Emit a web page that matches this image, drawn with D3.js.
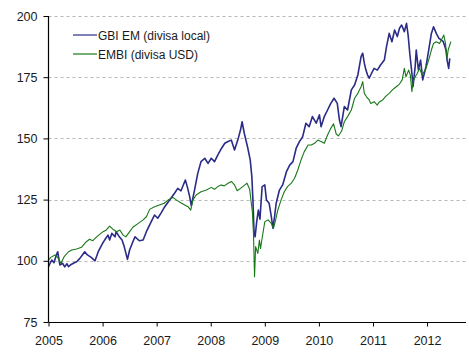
<!DOCTYPE html>
<html>
<head>
<meta charset="utf-8">
<script src="https://cdn.jsdelivr.net/npm/d3@7"></script>
<style>
  body { margin: 0; background: #fff; }
  svg { display: block; font-family: "Liberation Sans", Arial, sans-serif; }
</style>
</head>
<body>
<svg id="chart" width="469" height="353"></svg>
<script>
// series: [year, index]
const gbiEm = [
  [2005.00, 97.6], [2005.03, 99.0], [2005.06, 100.3], [2005.10, 99.2], [2005.14, 102.0],
  [2005.17, 103.7], [2005.21, 98.3], [2005.26, 99.0], [2005.30, 97.5], [2005.34, 98.8],
  [2005.37, 97.6], [2005.42, 98.5], [2005.46, 99.0], [2005.52, 99.6], [2005.58, 101.0],
  [2005.63, 102.5], [2005.67, 103.7], [2005.72, 102.4], [2005.79, 101.4], [2005.86, 100.0],
  [2005.92, 103.7], [2006.00, 107.1], [2006.06, 109.2], [2006.10, 110.5], [2006.13, 108.5],
  [2006.17, 111.2], [2006.23, 109.8], [2006.25, 111.9], [2006.31, 109.8], [2006.36, 108.5],
  [2006.40, 105.8], [2006.46, 100.6], [2006.50, 104.4], [2006.56, 107.8], [2006.60, 109.8],
  [2006.68, 108.2], [2006.75, 108.5], [2006.81, 111.9], [2006.90, 116.0], [2006.96, 118.7],
  [2007.02, 117.4], [2007.08, 119.5], [2007.15, 122.1], [2007.24, 124.8], [2007.33, 127.6],
  [2007.39, 129.6], [2007.45, 128.6], [2007.53, 133.0], [2007.57, 130.0], [2007.61, 126.2],
  [2007.64, 122.5], [2007.70, 128.9], [2007.76, 135.7], [2007.82, 140.5], [2007.89, 141.9],
  [2007.95, 139.8], [2008.01, 141.9], [2008.07, 140.5], [2008.13, 143.2], [2008.20, 146.0],
  [2008.26, 148.0], [2008.32, 148.7], [2008.38, 149.3], [2008.44, 145.3], [2008.50, 149.3],
  [2008.55, 153.4], [2008.58, 156.8], [2008.62, 152.1], [2008.68, 146.6], [2008.73, 141.2],
  [2008.76, 134.4], [2008.78, 124.8], [2008.80, 112.0], [2008.82, 109.8], [2008.85, 116.0],
  [2008.88, 120.7], [2008.91, 117.0], [2008.95, 130.3], [2009.00, 131.0], [2009.03, 124.8],
  [2009.08, 123.5], [2009.12, 118.0], [2009.15, 113.3], [2009.18, 118.0], [2009.21, 123.5],
  [2009.27, 128.9], [2009.33, 131.0], [2009.40, 136.4], [2009.46, 139.1], [2009.52, 140.5],
  [2009.58, 146.0], [2009.64, 148.7], [2009.70, 150.7], [2009.76, 156.2], [2009.82, 154.8],
  [2009.88, 158.9], [2009.95, 156.2], [2010.01, 159.6], [2010.04, 154.8], [2010.10, 158.9],
  [2010.16, 161.6], [2010.22, 164.3], [2010.28, 166.4], [2010.34, 164.3], [2010.38, 157.5],
  [2010.41, 154.8], [2010.47, 163.0], [2010.53, 161.6], [2010.60, 169.8], [2010.66, 171.8],
  [2010.72, 175.9], [2010.78, 183.4], [2010.81, 184.8], [2010.84, 180.7], [2010.87, 177.9],
  [2010.90, 175.9], [2010.93, 174.6], [2010.96, 176.0], [2011.02, 178.6], [2011.08, 177.9],
  [2011.14, 180.0], [2011.21, 182.0], [2011.25, 187.5], [2011.30, 192.9], [2011.35, 189.5],
  [2011.40, 194.3], [2011.45, 191.6], [2011.49, 195.0], [2011.53, 196.3], [2011.58, 193.6],
  [2011.62, 197.0], [2011.65, 192.2], [2011.68, 184.8], [2011.72, 176.6], [2011.74, 171.1],
  [2011.78, 179.3], [2011.80, 186.1], [2011.84, 178.0], [2011.88, 182.0], [2011.92, 173.9],
  [2011.98, 179.3], [2012.03, 186.1], [2012.08, 192.9], [2012.12, 195.6], [2012.17, 192.9],
  [2012.22, 190.9], [2012.26, 190.2], [2012.30, 189.5], [2012.35, 186.1], [2012.37, 182.0],
  [2012.40, 178.6], [2012.42, 182.7]
];

const embi = [
  [2005.00, 100.3], [2005.04, 101.4], [2005.12, 102.4], [2005.17, 101.4], [2005.23, 99.0],
  [2005.29, 101.7], [2005.37, 103.7], [2005.43, 104.4], [2005.52, 104.8], [2005.61, 105.5],
  [2005.70, 107.8], [2005.76, 108.8], [2005.82, 108.2], [2005.89, 109.8], [2005.95, 110.9],
  [2006.01, 111.9], [2006.07, 112.6], [2006.13, 114.2], [2006.19, 112.9], [2006.26, 111.9],
  [2006.32, 112.6], [2006.38, 110.5], [2006.43, 109.8], [2006.50, 111.9], [2006.56, 113.7],
  [2006.66, 115.3], [2006.75, 116.7], [2006.81, 118.0], [2006.87, 121.0], [2006.96, 122.1],
  [2007.05, 122.8], [2007.14, 123.5], [2007.21, 124.8], [2007.30, 125.9], [2007.37, 124.8],
  [2007.46, 123.5], [2007.52, 122.8], [2007.58, 122.1], [2007.63, 120.7], [2007.67, 124.8],
  [2007.73, 126.9], [2007.82, 128.2], [2007.92, 128.9], [2008.01, 130.0], [2008.07, 129.2],
  [2008.13, 130.3], [2008.19, 131.0], [2008.25, 130.6], [2008.32, 131.7], [2008.38, 132.4],
  [2008.44, 131.0], [2008.49, 128.6], [2008.55, 129.6], [2008.61, 130.6], [2008.67, 131.7],
  [2008.72, 129.2], [2008.75, 123.5], [2008.77, 120.0], [2008.79, 111.2], [2008.81, 93.5],
  [2008.83, 105.8], [2008.87, 103.0], [2008.90, 108.5], [2008.92, 105.0], [2008.95, 109.2],
  [2009.00, 116.0], [2009.06, 116.7], [2009.12, 115.3], [2009.16, 113.3], [2009.20, 116.7],
  [2009.24, 120.7], [2009.30, 124.8], [2009.36, 128.2], [2009.42, 130.3], [2009.49, 131.7],
  [2009.55, 133.7], [2009.61, 137.1], [2009.67, 141.2], [2009.73, 144.6], [2009.80, 147.3],
  [2009.86, 147.3], [2009.92, 148.0], [2009.98, 149.3], [2010.04, 148.7], [2010.10, 148.0],
  [2010.16, 151.4], [2010.22, 154.1], [2010.27, 156.0], [2010.32, 151.8], [2010.36, 151.0],
  [2010.42, 153.0], [2010.47, 156.8], [2010.53, 158.9], [2010.60, 161.6], [2010.66, 166.4],
  [2010.72, 168.4], [2010.78, 171.1], [2010.81, 173.2], [2010.84, 168.4], [2010.88, 167.0],
  [2010.93, 165.7], [2010.96, 164.3], [2011.02, 165.0], [2011.08, 163.6], [2011.11, 164.8],
  [2011.18, 165.7], [2011.24, 167.3], [2011.30, 168.4], [2011.36, 169.8], [2011.43, 171.1],
  [2011.49, 172.2], [2011.54, 173.9], [2011.58, 178.6], [2011.61, 175.2], [2011.66, 177.9],
  [2011.69, 175.9], [2011.72, 169.1], [2011.74, 173.2], [2011.78, 175.2], [2011.82, 176.6],
  [2011.86, 178.6], [2011.91, 175.9], [2011.98, 178.6], [2012.03, 182.0], [2012.08, 186.1],
  [2012.12, 188.8], [2012.17, 189.5], [2012.23, 188.8], [2012.28, 190.9], [2012.31, 192.2],
  [2012.34, 188.8], [2012.37, 182.7], [2012.39, 186.1], [2012.44, 189.5]
];

const yearTicks = [2005, 2006, 2007, 2008, 2009, 2010, 2011, 2012];
const valueTicks = [75, 100, 125, 150, 175, 200];
const seriesNames = ["GBI EM (divisa local)", "EMBI (divisa USD)"];
const seriesColors = ["#2b2b88", "#187818"];

const svg = d3.select("#chart");

// scales
const x = d3.scaleLinear().domain([2005, 2012.72]).range([48.5, 466]);
const y = d3.scaleLinear().domain([75, 200]).range([322, 16]);

// dashed grid lines
svg.append("g")
  .selectAll("line")
  .data(valueTicks.filter(d => d > 75))
  .enter()
  .append("line")
  .attr("x1", x(2005))
  .attr("x2", x.range()[1])
  .attr("y1", d => Math.round(y(d)) + 0.5)
  .attr("y2", d => Math.round(y(d)) + 0.5)
  .attr("stroke", "#b8b8b8")
  .attr("stroke-dasharray", "3,3");

// lines
const line = d3.line()
  .x(d => x(d[0]))
  .y(d => y(d[1]));

svg.append("path")
  .datum(gbiEm)
  .attr("fill", "none")
  .attr("stroke", seriesColors[0])
  .attr("stroke-width", 1.6)
  .attr("stroke-linejoin", "round")
  .attr("d", line);

svg.append("path")
  .datum(embi)
  .attr("fill", "none")
  .attr("stroke", seriesColors[1])
  .attr("stroke-width", 1.1)
  .attr("stroke-linejoin", "round")
  .attr("d", line);

// y axis
const yAxis = svg.append("g")
  .attr("transform", "translate(48.5,0)")
  .call(d3.axisLeft(y).tickValues(valueTicks).tickSize(5).tickPadding(6));

// x axis
const xAxis = svg.append("g")
  .attr("transform", "translate(0,322.5)")
  .call(d3.axisBottom(x).tickValues(yearTicks).tickFormat(d3.format("d")).tickSize(4).tickPadding(10));

[yAxis, xAxis].forEach(g => {
  g.select(".domain").attr("stroke", "#000").attr("stroke-width", 1.2);
  g.selectAll(".tick line").attr("stroke", "#000");
  g.selectAll(".tick text")
    .attr("fill", "#1a1a1a")
    .style("font-size", "12.5px")
    .style("font-family", "'Liberation Sans', Arial, sans-serif");
});
// keep the domains as plain lines, without the outer end ticks
yAxis.select(".domain").attr("d", `M0,${y(75)}V${y(200)}`);
xAxis.select(".domain").attr("d", `M${x(2005)},0H${x.range()[1]}`);

// legend
const legend = svg.append("g");
seriesNames.forEach((name, i) => {
  const ly = 35 + i * 19;
  legend.append("line")
    .attr("x1", 73).attr("x2", 97)
    .attr("y1", ly).attr("y2", ly)
    .attr("stroke", seriesColors[i])
    .attr("stroke-width", 1.2);
  legend.append("text")
    .attr("x", 98)
    .attr("y", ly + 4.5)
    .attr("fill", "#1a1a1a")
    .style("font-size", "12px")
    .text(name);
});
</script>
</body>
</html>
